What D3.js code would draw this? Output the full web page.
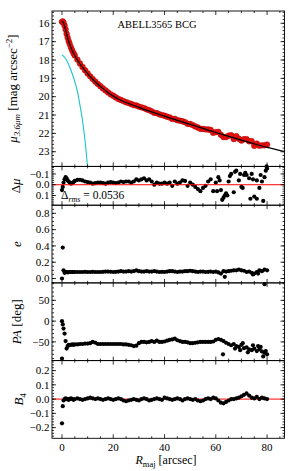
<!DOCTYPE html>
<html><head><meta charset="utf-8">
<script src="https://cdn.jsdelivr.net/npm/d3@7"></script>
<style>
body{margin:0;background:#fff}
svg{display:block}
text{font-family:"Liberation Serif","DejaVu Serif",serif;fill:#000}
</style>
</head><body>
<svg id="c" width="293" height="471"></svg>
<script>
// ---------- data ----------
const radius = [0,0.3,0.6,1,1.4,1.8,2.2,2.6,3,3.5,4,4.5,5,6,7,8,9,10,11,12,13,14,15,16,17,18,19,20,21,22,23,24,25,26,27,28,29,30,31,32,33,34,35,36,37,38,39,40,41,42,43,44,45,46,47,48,49,50,51,52,53,54,55,56,57,58,59,60,61,62,63,64,65,66,67,68,69,70,71,72,73,74,75,76,77,78,79,80];

const muData = [15.92,15.9,15.97,16.12,16.33,16.57,16.78,16.97,17.13,17.32,17.48,17.63,17.75,17.98,18.19,18.38,18.56,18.73,18.89,19.04,19.18,19.31,19.43,19.55,19.66,19.77,19.87,19.95,20.04,20.12,20.18,20.24,20.3,20.35,20.4,20.46,20.48,20.54,20.58,20.62,20.69,20.73,20.8,20.88,20.9,20.96,21.0,21.04,21.09,21.13,21.21,21.21,21.28,21.31,21.34,21.39,21.48,21.49,21.55,21.62,21.68,21.75,21.76,21.78,21.79,21.81,21.97,21.93,21.92,22.08,22.2,22.2,22.13,22.1,22.31,22.15,22.29,22.39,22.32,22.32,22.43,22.43,22.68,22.56,22.67,22.65,22.65,22.61];

const modelR  = [0,0.5,1,1.5,2,2.5,3,4,5,6,8,10,12,14,16,18,20,22,25,30,35,40,45,50,55,60,65,70,75,80,87];
const modelMu = [15.88,15.95,16.15,16.42,16.7,16.95,17.15,17.5,17.77,18.0,18.4,18.74,19.05,19.32,19.56,19.78,19.97,20.13,20.32,20.58,20.83,21.06,21.29,21.51,21.73,21.95,22.16,22.37,22.57,22.76,22.99];

const bulgeR  = [0,1,2,3,4,5,6,7,8,9,10];
const bulgeMu = [17.72,17.85,18.07,18.38,18.75,19.18,19.7,20.45,21.3,22.4,23.9];

const dmu = [0.05,0.02,-0.02,-0.05,-0.07,-0.06,-0.04,-0.03,-0.02,-0.01,-0.015,-0.025,-0.035,-0.045,-0.045,-0.04,-0.03,-0.025,-0.02,-0.01,-0.015,-0.02,-0.02,-0.015,-0.01,-0.02,-0.025,-0.02,-0.015,-0.02,-0.03,-0.025,-0.03,-0.03,-0.02,-0.03,-0.05,-0.04,-0.05,-0.06,-0.04,-0.05,-0.03,0.0,-0.02,-0.01,-0.01,-0.02,-0.01,-0.02,0.01,-0.03,-0.01,-0.02,-0.04,-0.035,0.01,-0.02,0.0,0.02,0.04,0.06,0.03,0.01,-0.03,-0.05,0.06,-0.02,-0.07,0.05,0.12,0.08,-0.03,-0.1,0.07,-0.13,-0.04,0.02,-0.09,-0.09,-0.06,-0.1,0.11,-0.04,0.03,-0.03,-0.07,-0.15];
const dmuExtraR = [60.5,61.5,62.5,63.5,64.5,65.5,67.5,69.5,70.5,71.5,73.5,74.5,76,77.5,78.5,79.5,79.8];
const dmuExtra  = [0.06,-0.04,0.14,0.1,0.1,-0.08,-0.12,-0.1,0.03,-0.11,0.13,-0.05,0.13,-0.09,0.15,-0.13,-0.17];

const ell = [0.0,0.38,0.1,0.07,0.08,0.08,0.075,0.08,0.08,0.08,0.08,0.08,0.08,0.08,0.08,0.08,0.082,0.08,0.08,0.082,0.08,0.08,0.08,0.082,0.085,0.085,0.083,0.08,0.082,0.085,0.09,0.085,0.085,0.09,0.085,0.09,0.1,0.09,0.085,0.085,0.09,0.085,0.085,0.09,0.085,0.08,0.082,0.08,0.085,0.09,0.09,0.085,0.08,0.085,0.085,0.09,0.09,0.095,0.09,0.085,0.08,0.085,0.085,0.08,0.082,0.085,0.08,0.085,0.075,0.06,0.09,0.085,0.09,0.095,0.1,0.1,0.11,0.1,0.095,0.08,0.085,0.07,0.06,0.08,0.1,0.09,0.11,0.1];
const ellExtraR = [63.5,74.5,76.5,79];
const ellExtra  = [0.02,0.05,0.06,-0.07];

const pa = [0,-8,-18,-30,-48,-66,-60,-57,-58,-57,-56,-57,-56,-56,-55,-55,-54,-54,-53,-50,-52,-55,-55,-55,-55,-55,-55,-55,-55,-55,-55,-56,-56,-57,-58,-60,-59,-53,-50,-50,-51,-50,-48,-50,-47,-50,-50,-49,-47,-45,-44,-42,-46,-48,-50,-50,-51,-53,-53,-52,-51,-50,-50,-50,-50,-50,-49,-45,-43,-45,-48,-52,-55,-58,-55,-60,-62,-57,-65,-63,-68,-70,-66,-72,-68,-73,-76,-80];
const paExtraR = [0,62.8,67.5,69.5,70.5,72.5,74.5,76.5,77.5,78.5,79.5];
const paExtra  = [-90,-80,-66,-70,-53,-75,-58,-60,-62,-85,-72];

const b4 = [-0.17,-0.05,-0.01,0.0,0.005,0.0,0.0,-0.005,0.0,0.005,0.0,-0.005,0.0,0.005,0.0,-0.005,0.0,0.005,0.01,0.005,0.0,0.005,0.0,-0.005,0.0,0.005,0.0,-0.005,0.0,0.005,0.0,-0.01,-0.015,-0.01,-0.005,0.0,-0.005,-0.01,0.0,0.005,0.0,-0.01,-0.005,0.0,0.005,0.0,-0.005,0.01,0.005,0.0,-0.005,0.0,0.005,0.0,-0.01,0.0,0.005,0.0,-0.005,0.0,-0.01,-0.015,-0.01,0.0,0.005,0.0,0.01,0.005,-0.01,-0.025,-0.03,-0.02,-0.01,0.0,0.0,0.005,0.01,0.02,0.03,0.04,0.025,0.01,0.005,0.015,0.0,0.01,0.005,0.0];

const xTicks = [0,20,40,60,80];
const muTicks = [16,17,18,19,20,21,22,23];
const dmuTicks = [-0.1,0.0,0.1];
const ellTicks = [0.0,0.2,0.4,0.6,0.8];
const paTicks = [-50,0,50];
const b4Ticks = [-0.2,-0.1,0.0,0.1,0.2];

// ---------- layout ----------
const svg = d3.select('#c');
const L = 52, R = 284.5;
const x = d3.scaleLinear().domain([-3.9, 86.8]).range([L, R]);
const fmt1 = d3.format('.1f'), fmt0 = d3.format('d');

const panels = [
  {top:11,    bot:166.4, dom:[15.33,23.8],  inv:true,  ticks:muTicks,  minor:0.2,  fmt:fmt0},
  {top:166.4, bot:205.2, dom:[-0.17,0.19],  inv:true,  ticks:dmuTicks, minor:0.02, fmt:fmt1},
  {top:205.2, bot:282.9, dom:[-0.054,0.9],  inv:false, ticks:ellTicks, minor:0.05, fmt:fmt1},
  {top:282.9, bot:360.6, dom:[-95,92],      inv:false, ticks:paTicks,  minor:10,   fmt:fmt0},
  {top:360.6, bot:438.3, dom:[-0.275,0.27], inv:false, ticks:b4Ticks,  minor:0.02, fmt:fmt1}
];
panels.forEach((p,i) => {
  p.y = d3.scaleLinear().domain(p.dom).range(p.inv ? [p.top,p.bot] : [p.bot,p.top]);
  p.g = svg.append('g');
  svg.append('clipPath').attr('id','clip'+i).append('rect')
    .attr('x',L).attr('y',p.top).attr('width',R-L).attr('height',p.bot-p.top);
});

const xMinor = d3.range(0, 87, 5).filter(v => v % 20 !== 0);

function drawFrame(p, i, last) {
  const g = svg.append('g');
  // ticks
  const tk = g.append('g').attr('stroke','#000').attr('stroke-width',0.8);
  xTicks.forEach(v => {
    tk.append('line').attr('x1',x(v)).attr('x2',x(v)).attr('y1',p.bot).attr('y2',p.bot-4);
    tk.append('line').attr('x1',x(v)).attr('x2',x(v)).attr('y1',p.top).attr('y2',p.top+4);
  });
  xMinor.forEach(v => {
    tk.append('line').attr('x1',x(v)).attr('x2',x(v)).attr('y1',p.bot).attr('y2',p.bot-2);
    tk.append('line').attr('x1',x(v)).attr('x2',x(v)).attr('y1',p.top).attr('y2',p.top+2);
  });
  const [d0,d1] = p.dom;
  const mins = d3.range(Math.ceil(d0/p.minor)*p.minor, d1, p.minor);
  mins.forEach(v => {
    const yy = p.y(v);
    tk.append('line').attr('x1',L).attr('x2',L+2).attr('y1',yy).attr('y2',yy);
    tk.append('line').attr('x1',R).attr('x2',R-2).attr('y1',yy).attr('y2',yy);
  });
  p.ticks.forEach(v => {
    const yy = p.y(v);
    tk.append('line').attr('x1',L).attr('x2',L+4).attr('y1',yy).attr('y2',yy);
    tk.append('line').attr('x1',R).attr('x2',R-4).attr('y1',yy).attr('y2',yy);
    g.append('text').attr('x',L-2.5).attr('y',yy).attr('dy','0.34em')
      .attr('text-anchor','end').attr('font-size',11).text(p.fmt(v));
  });
  g.append('rect').attr('x',L).attr('y',p.top).attr('width',R-L).attr('height',p.bot-p.top)
    .attr('fill','none').attr('stroke','#000').attr('stroke-width',0.9);
  if (last) {
    xTicks.forEach(v => {
      g.append('text').attr('x',x(v)).attr('y',p.bot+13).attr('text-anchor','middle')
        .attr('font-size',11).text(fmt0(v));
    });
  }
}

const line = (ys) => d3.line().x(d => x(d[0])).y(d => ys(d[1]));
function dots(g, ys, rs, vs, r, fill, stroke) {
  g.selectAll(null).data(rs.map((v,k)=>[v,vs[k]])).join('circle')
    .attr('cx',d=>x(d[0])).attr('cy',d=>ys(d[1])).attr('r',r)
    .attr('fill',fill).attr('stroke',stroke||'none').attr('stroke-width',0.4);
}

// Panel 1: surface brightness
{
  const p = panels[0];
  p.g.append('path').datum(bulgeR.map((v,k)=>[v,bulgeMu[k]]))
    .attr('d', line(p.y).curve(d3.curveMonotoneX)).attr('fill','none')
    .attr('stroke','#19c3cc').attr('stroke-width',1.1).attr('clip-path','url(#clip0)');
  dots(p.g, p.y, radius, muData, 2.9, '#e8100c', '#a00000');
  p.g.append('path').datum(modelR.map((v,k)=>[v,modelMu[k]]))
    .attr('d', line(p.y).curve(d3.curveMonotoneX)).attr('fill','none')
    .attr('stroke','#000').attr('stroke-width',1.2).attr('clip-path','url(#clip0)');
  p.g.append('text').attr('x',157).attr('y',27.5).attr('text-anchor','middle')
    .attr('font-size',10.5).text('ABELL3565 BCG');
}
// Panel 2: residuals
{
  const p = panels[1];
  dots(p.g, p.y, radius, dmu, 2.1, '#000');
  dots(p.g, p.y, dmuExtraR, dmuExtra, 2.1, '#000');
  p.g.append('line').attr('x1',L).attr('x2',R).attr('y1',p.y(0)).attr('y2',p.y(0))
    .attr('stroke','#ff0000').attr('stroke-width',1);
  const t = p.g.append('text').attr('x',61).attr('y',199).attr('font-size',11.5);
  t.append('tspan').text('Δ');
  t.append('tspan').attr('font-size',8).attr('font-style','italic').attr('dy',2.5).text('rms');
  t.append('tspan').attr('dy',-2.5).text(' = 0.0536');
}
// Panel 3: ellipticity
{
  const p = panels[2];
  dots(p.g, p.y, radius, ell, 2.1, '#000');
  dots(p.g, p.y, ellExtraR, ellExtra, 2.1, '#000');
}
// Panel 4: PA
{
  const p = panels[3];
  dots(p.g, p.y, radius, pa, 2.1, '#000');
  dots(p.g, p.y, paExtraR, paExtra, 2.1, '#000');
}
// Panel 5: B4
{
  const p = panels[4];
  p.g.append('line').attr('x1',L).attr('x2',R).attr('y1',p.y(0)).attr('y2',p.y(0))
    .attr('stroke','#ff0000').attr('stroke-width',1);
  dots(p.g, p.y, radius, b4, 2.1, '#000');
}

panels.forEach((p,i) => drawFrame(p, i, i === panels.length-1));

// y-axis titles
function ytitle(cx, cy, build) {
  const t = svg.append('text').attr('transform',`translate(${cx},${cy}) rotate(-90)`)
    .attr('text-anchor','middle').attr('font-size',13);
  build(t);
}
ytitle(17, 88.5, t => {
  t.append('tspan').attr('font-style','italic').text('μ');
  t.append('tspan').attr('font-style','italic').attr('font-size',9).attr('dy',3).text('3.6μm');
  t.append('tspan').attr('dy',-3).text(' [mag arcsec');
  t.append('tspan').attr('font-size',9).attr('dy',-5).text('−2');
  t.append('tspan').attr('dy',5).text(']');
});
ytitle(20, 185.8, t => {
  t.append('tspan').text('Δ');
  t.append('tspan').attr('font-style','italic').text('μ');
});
ytitle(21, 244, t => { t.append('tspan').attr('font-style','italic').text('e'); });
ytitle(21, 321.7, t => {
  t.append('tspan').attr('font-style','italic').text('PA');
  t.append('tspan').text(' [deg]');
});
ytitle(23, 399.4, t => {
  t.append('tspan').attr('font-style','italic').text('B');
  t.append('tspan').attr('font-size',9).attr('dy',3).text('4');
});
// x title
{
  const t = svg.append('text').attr('x',166).attr('y',464).attr('text-anchor','middle').attr('font-size',12);
  t.append('tspan').attr('font-style','italic').text('R');
  t.append('tspan').attr('font-size',8.5).attr('dy',2.5).text('maj');
  t.append('tspan').attr('dy',-2.5).text(' [arcsec]');
}
</script>
</body></html>
